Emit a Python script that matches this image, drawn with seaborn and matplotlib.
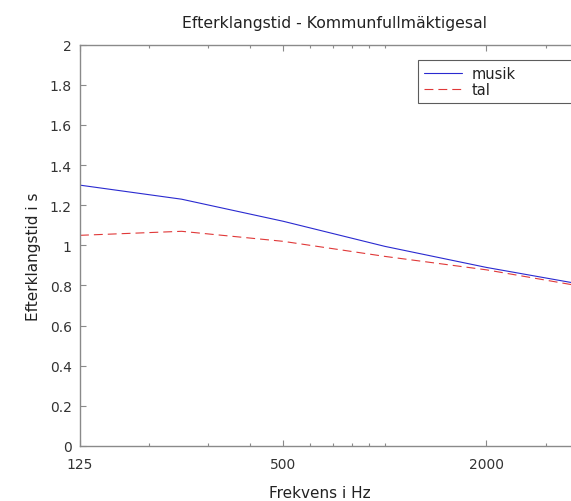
import matplotlib
matplotlib.use("Agg")
import matplotlib.pyplot as plt
import seaborn as sns
import pandas as pd
import numpy as np

# Data
freqs = [125, 250, 500, 1000, 2000, 4000]
musik = [1.30, 1.23, 1.12, 0.995, 0.89, 0.80]
tal = [1.05, 1.07, 1.02, 0.945, 0.878, 0.79]
series_names = ["musik", "tal"]
xtick_vals = [125, 500, 2000]
xtick_labels = ["125", "500", "2000"]
xminor_vals = [200, 300, 400, 600, 700, 800, 900, 1000, 3000]
ytick_vals = [0, 0.2, 0.4, 0.6, 0.8, 1.0, 1.2, 1.4, 1.6, 1.8, 2.0]
ytick_labels = ["0", "0.2", "0.4", "0.6", "0.8", "1", "1.2", "1.4", "1.6", "1.8", "2"]

df = pd.DataFrame({
    "freq": freqs * 2,
    "value": musik + tal,
    "serie": [series_names[0]] * len(freqs) + [series_names[1]] * len(freqs),
})

sns.set_theme(style="white")
plt.rcParams['font.family'] = ['DejaVu Sans']

fig = plt.figure(figsize=(5.71, 5.02), dpi=100)
ax = fig.add_axes([80 / 571, 1 - 447 / 502, (588 - 80) / 571, (447 - 45.7) / 502])

sns.lineplot(data=df, x="freq", y="value", hue="serie", style="serie",
             palette={"musik": "#2a2ad0", "tal": "#e03838"},
             dashes={"musik": "", "tal": (8, 4.5)},
             linewidth=0.8, ax=ax, legend=True)

ax.set_xscale("log")
ax.set_xlim(125, 4000)
ax.set_ylim(0, 2)
ax.set_xticks(xtick_vals)
ax.set_xticklabels(xtick_labels)
ax.set_xticks(xminor_vals, minor=True)
ax.set_xticklabels([], minor=True)
ax.set_yticks(ytick_vals)
ax.set_yticklabels(ytick_labels)

spine_col = "#8a8a8a"
for s in ax.spines.values():
    s.set_visible(True)
    s.set_color(spine_col)
    s.set_linewidth(1.0)

ax.tick_params(axis="both", which="major", direction="in", length=4, width=0.8,
               color=spine_col, labelsize=10, labelcolor="#333333",
               top=True, right=True, bottom=True, left=True)
ax.tick_params(axis="x", which="major", pad=8)
ax.tick_params(axis="y", which="major", pad=6)
ax.tick_params(axis="both", which="minor", direction="in", length=2.5, width=0.8,
               color=spine_col, top=True, bottom=True)

ax.set_title("Efterklangstid - Kommunfullmäktigesal", fontsize=11.3, color="#222222", pad=13)
ax.set_xlabel("Frekvens i Hz", fontsize=11, color="#222222")
ax.set_ylabel("Efterklangstid i s", fontsize=11, color="#222222")
ax.xaxis.set_label_coords(0.472, -0.115)
ax.xaxis.label.set_va("center")
ax.yaxis.set_label_coords(-0.0925, 0.473)
ax.yaxis.label.set_va("center")

leg = ax.legend(loc="upper left", bbox_to_anchor=(0.665, 0.862, 0.33, 0.1),
                mode="expand", frameon=True,
                fancybox=False, shadow=False, fontsize=10.5, handlelength=2.6,
                borderpad=0.4, labelspacing=0.1, handletextpad=0.7,
                borderaxespad=0)
leg.get_frame().set_edgecolor("#333333")
leg.get_frame().set_linewidth(0.8)
for t in leg.get_texts():
    t.set_color("#222222")

fig.savefig("out.png", dpi=100)
